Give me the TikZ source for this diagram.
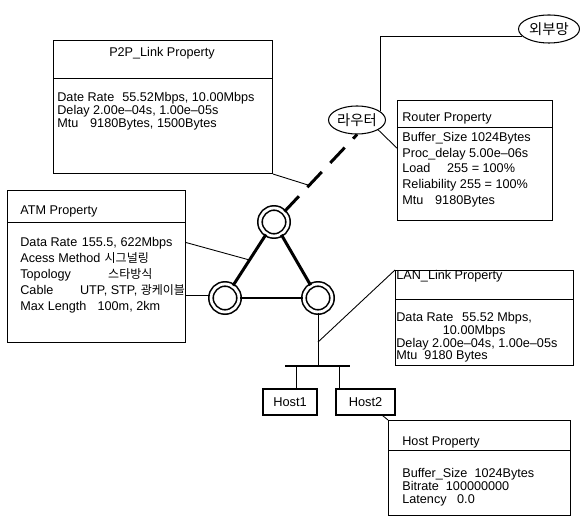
\documentclass[tikz,border=0pt]{standalone}
\usepackage{fontspec}
\setmainfont{Liberation Sans}
\newfontfamily\kr[Scale=0.95]{Noto Sans CJK KR}
\usetikzlibrary{shapes.geometric}
\newcommand{\lbl}[2]{\makebox[#1][l]{#2}}

\begin{document}
\begin{tikzpicture}[x=0.02cm, y=-0.02cm,
  font=\fontsize{7.2}{8.9}\selectfont,
  propbox/.style={rectangle, draw, line width=0.6pt, anchor=north west, inner sep=0pt},
  boxtitle/.style={anchor=west, inner sep=0pt},
  boxbody/.style={anchor=north west, inner sep=0pt, align=left},
  netoval/.style={ellipse, draw, line width=0.6pt, inner sep=0pt, minimum height=0.56cm,
    font=\fontsize{8.6}{9}\selectfont\kr},
  atmnode/.style={circle, draw, double, double distance=1.6pt, line width=0.9pt,
    minimum size=0.56cm, inner sep=0pt},
  hostbox/.style={rectangle, draw, line width=0.6pt, minimum height=0.52cm, inner sep=0pt,
    font=\fontsize{7.3}{8}\selectfont},
  link/.style={line width=0.5pt},
  trunk/.style={line width=1.7pt},
  wan/.style={line width=1.7pt, dash pattern=on 12pt off 7pt}
]
\useasboundingbox (0,0) rectangle (580,523);

\node[propbox, minimum width=4.38cm, minimum height=2.66cm] (p2p) at (53,40) {};
\node[inner sep=0pt] (p2ptitle) at (162,53) {P2P\_Link Property};
\draw[link] (p2p.west |- 0,78) -- (p2p.east |- 0,78);
\node[boxbody, font=\fontsize{7.2}{7.4}\selectfont] (p2pbody) at (57,92)
  {\lbl{37pt}{Date Rate}55.52Mbps, 10.00Mbps\\
   Delay 2.00e--04s, 1.00e--05s\\
   \lbl{18.7pt}{Mtu}9180Bytes, 1500Bytes};

\node[propbox, minimum width=3.56cm, minimum height=3.04cm] (atm) at (7,190) {};
\node[boxtitle] (atmtitle) at (20,211) {ATM Property};
\draw[link] (atm.west |- 0,222) -- (atm.east |- 0,222);
\node[boxbody, font=\fontsize{7.2}{9.1}\selectfont] (atmbody) at (20,237)
  {\lbl{35pt}{Data Rate}155.5, 622Mbps\\
   \lbl{48pt}{Acess Method}{\kr 시그널링}\\
   \lbl{50pt}{Topology}{\kr 스타방식}\\
   \lbl{34pt}{Cable}UTP, STP, {\kr 광케이블}\\
   \lbl{44pt}{Max Length}100m, 2km};

\node[netoval, minimum width=1.14cm] (router) at (357,120) {라우터};
\node[netoval, minimum width=1.22cm] (ext) at (549,29) {외부망};

\node[propbox, minimum width=3.1cm, minimum height=2.4cm] (rbox) at (397,100) {};
\node[boxtitle] (rtitle) at (402,118) {Router Property};
\draw[link] (rbox.west |- 0,127) -- (rbox.east |- 0,127);
\node[boxbody] (rbody) at (402,132)
  {Buffer\_Size 1024Bytes\\
   Proc\_delay 5.00e--06s\\
   \lbl{25.5pt}{Load}255 = 100\%\\
   Reliability 255 = 100\%\\
   \lbl{18.7pt}{Mtu}9180Bytes};

\node[atmnode] (t) at (274,222) {};
\node[atmnode] (l) at (225,298) {};
\node[atmnode] (r) at (318,298) {};
\draw[trunk] (t) -- (l);
\draw[trunk] (t) -- (r);
\draw[trunk] (l) -- (r);
\path (t) -- coordinate[pos=0.5] (atmtap) (l);
\draw[wan] (t.45) -- coordinate[pos=0.34] (p2ptap) (router.south);

\node[propbox, minimum width=3.56cm, minimum height=1.9cm] (lan) at (395,270) {};
\node[boxtitle] (lantitle) at (396,276) {LAN\_Link Property};
\draw[link] (lan.west |- 0,299) -- (lan.east |- 0,299);
\node[boxbody, font=\fontsize{7.2}{7.3}\selectfont] (lanbody) at (396,312)
  {\lbl{37.5pt}{Data Rate}55.52 Mbps,\\
   \hspace*{26.5pt}10.00Mbps\\
   Delay 2.00e--04s, 1.00e--05s\\
   Mtu\ \ 9180 Bytes};

\coordinate (busl) at (285,366);
\coordinate (busr) at (350,366);
\node[hostbox, minimum width=1.08cm] (h1) at (290,402) {Host1};
\node[hostbox, minimum width=1.18cm] (h2) at (365.5,402) {Host2};

\node[propbox, minimum width=3.64cm, minimum height=1.9cm] (host) at (388,420) {};
\node[boxtitle] (hosttitle) at (402,442) {Host Property};
\draw[link] (host.west |- 0,450) -- (host.east |- 0,450);
\node[boxbody, font=\fontsize{7.2}{7.4}\selectfont] (hostbody) at (402,468)
  {Buffer\_Size\ \ 1024Bytes\\
   Bitrate\ \ 100000000\\
   Latency\ \ \ 0.0};

\draw[link] (p2p.south east) -- (p2ptap);
\draw[link] (atm.15) -- (atmtap);
\draw[link] (l.170) -- (l.170 -| atm.east);
\draw[link] (router.20) |- (ext.195);
\draw[link] (router.-25) -- (rbox.171);
\draw[line width=1.2pt] (busl) -- (busr);
\draw[link] (r.south) -- coordinate[pos=0.55] (lantap) (r.south |- busl);
\draw[link] (lantap) -- (lan.north west);
\draw[link] ([xshift=0.12cm]h1.north) -- ([xshift=0.12cm]h1.north |- busl);
\draw[link] ([xshift=0.08cm]h2.north west) -- ([xshift=0.08cm]h2.north west |- busl);
\draw[link] ([xshift=-0.26cm]h2.south east) -- (host.north west);
\end{tikzpicture}
\end{document}
